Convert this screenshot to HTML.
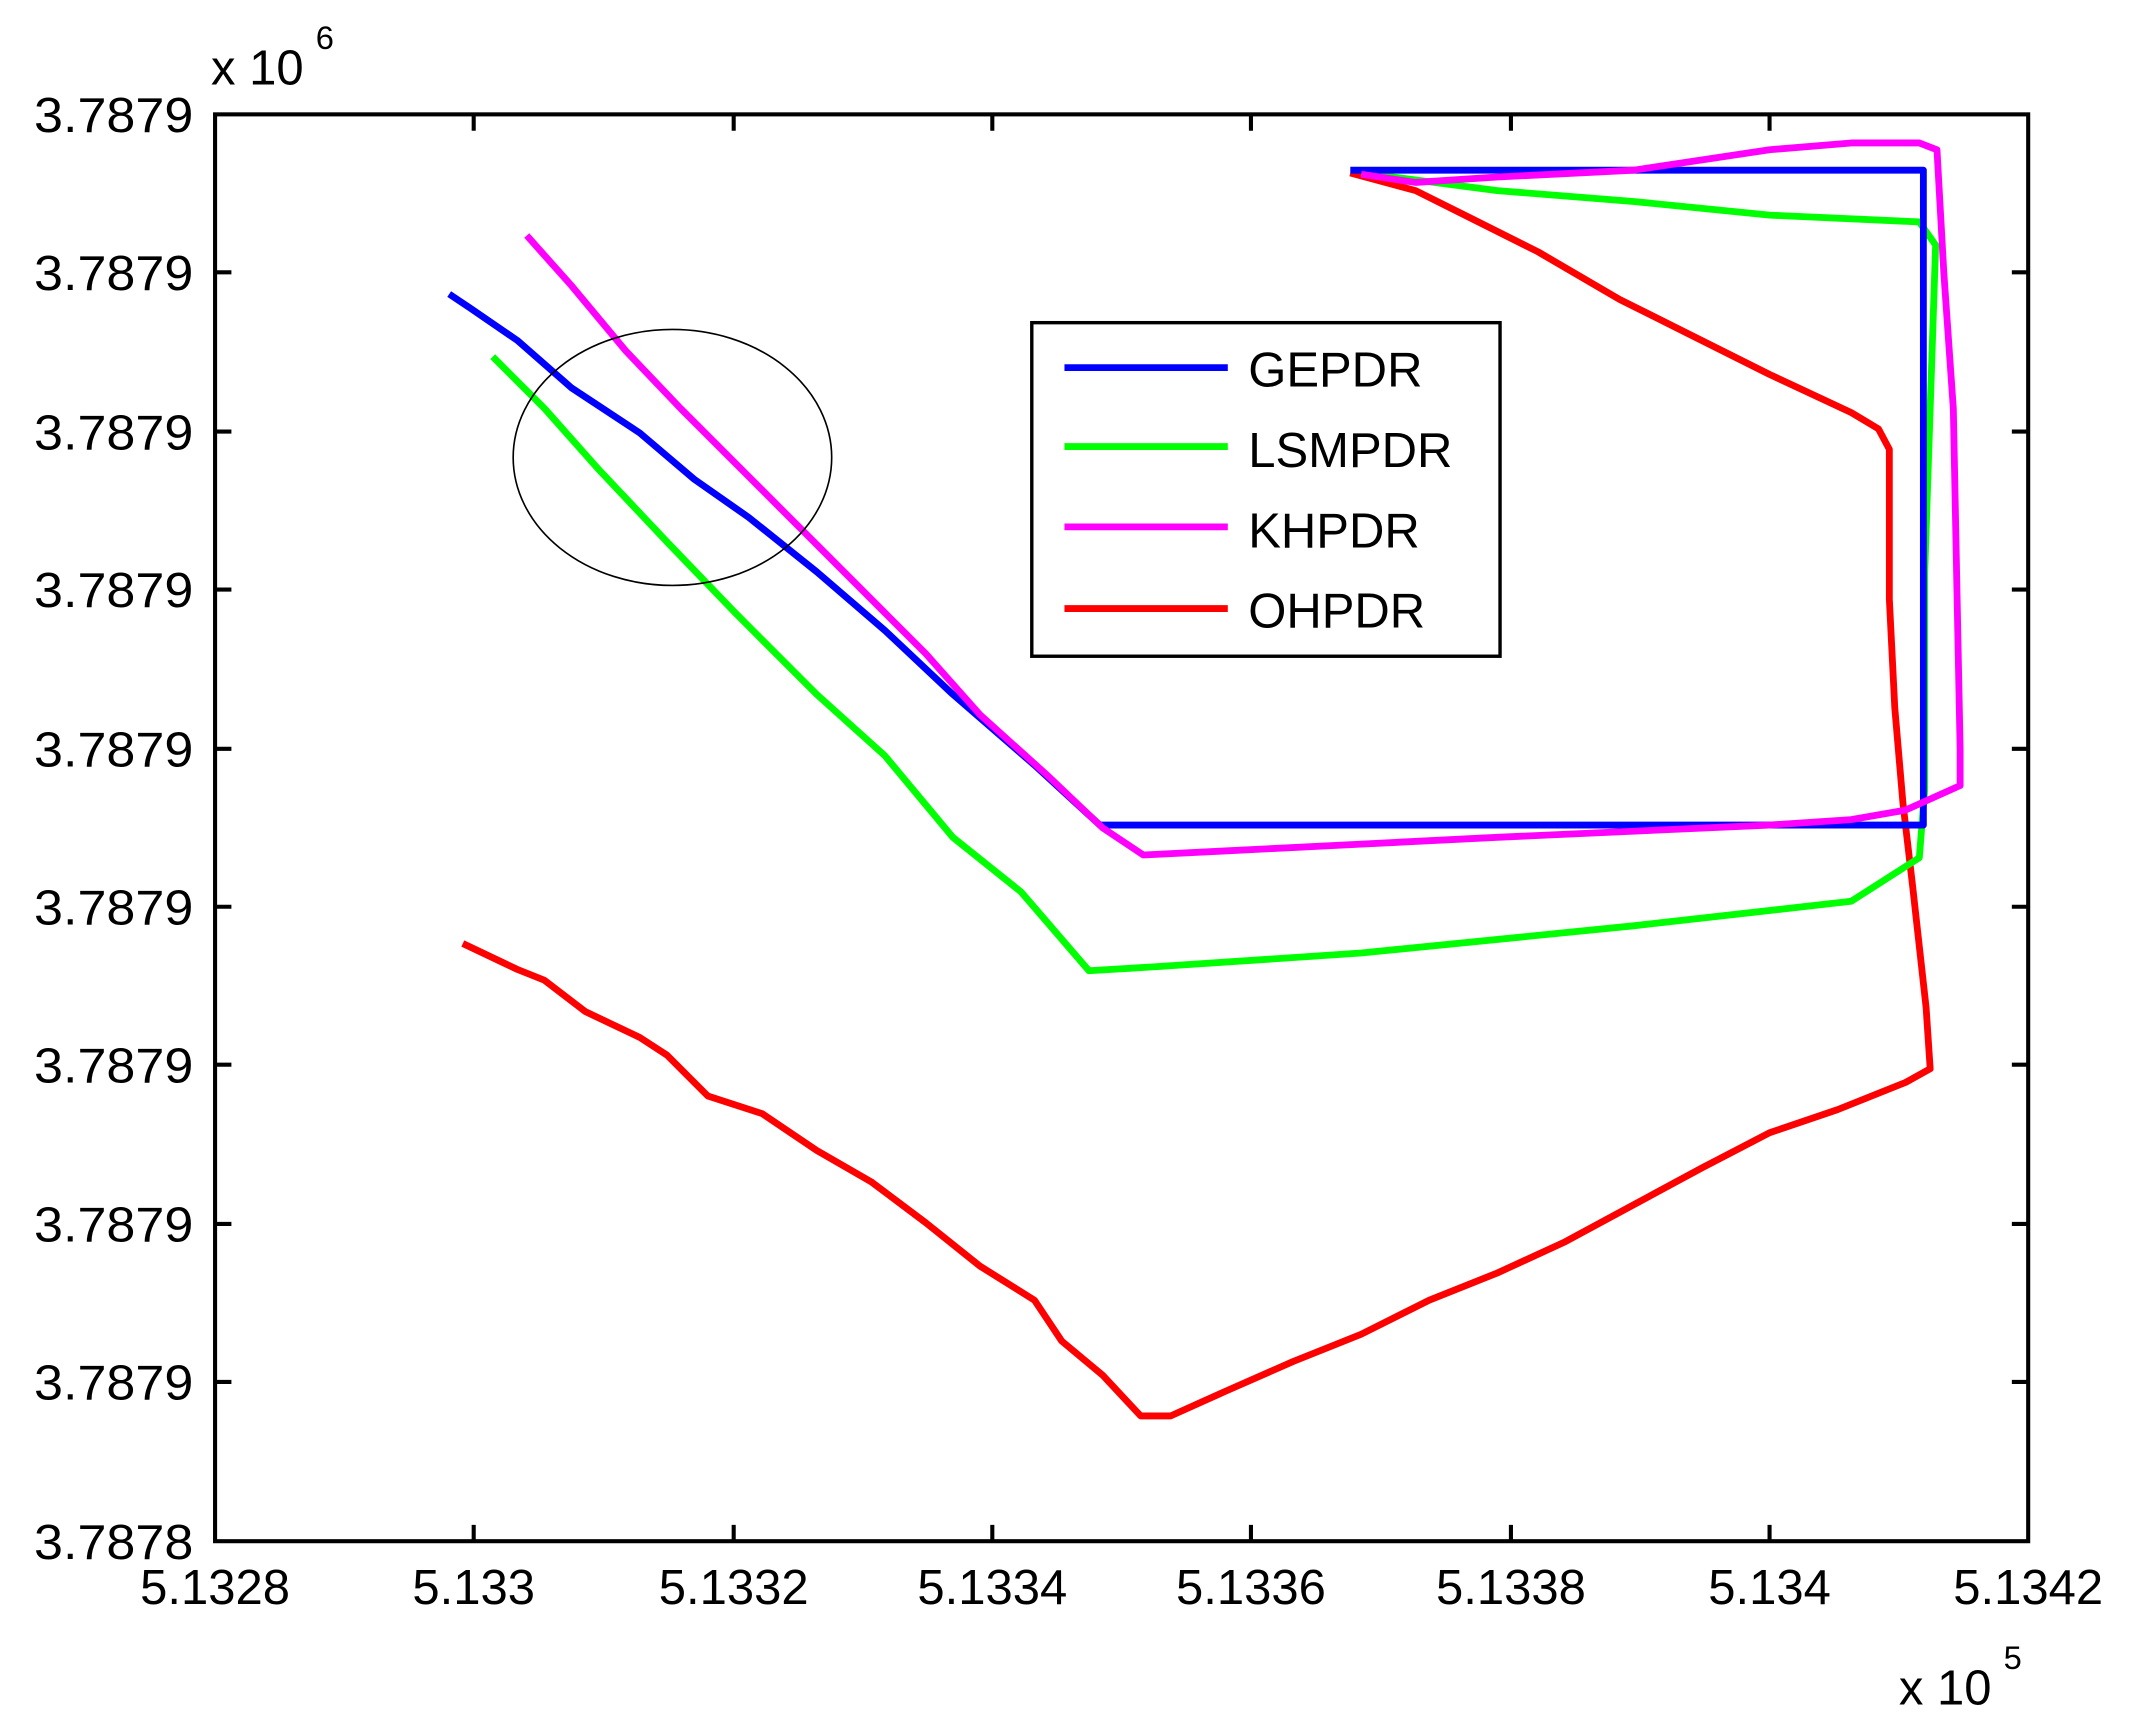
<!DOCTYPE html>
<html><head><meta charset="utf-8"><style>html,body{margin:0;padding:0;background:#fff}svg{display:block}</style></head>
<body>
<svg width="2133" height="1725" viewBox="0 0 1567 1267" preserveAspectRatio="none" xmlns="http://www.w3.org/2000/svg" font-family="'Liberation Sans', sans-serif">
<rect width="1567" height="1267" fill="#fff"/>
<g fill="none" stroke-width="5" stroke-linejoin="round">
<polyline stroke="#ff0000" points="340,693 380,712 400,720 430,743 470,762 490,775 520,805 560,818 600,845 640,868 680,898 720,930 760,955 780,985 810,1010 838,1040 860,1040 900,1022 950,1000 1000,980 1050,955 1100,935 1150,912 1200,885 1250,858 1300,832 1350,815 1400,795 1418,785 1415,740 1405,650 1398,590 1392,520 1388,440 1388,330 1380,315 1360,303 1300,275 1240,245 1190,220 1130,185 1080,160 1040,140 992,127"/>
<polyline stroke="#00ff00" points="362,262 400,300 440,345 490,398 540,450 600,510 650,555 700,615 750,655 800,713 850,710 1000,700 1200,680 1360,662 1410,630 1414,580 1414,420 1422,180 1410,163 1300,158 1200,148 1100,140 1000,127"/>
<polyline stroke="#0000ff" points="330,216 345,226 380,250 420,285 470,318 510,352 550,380 600,420 650,463 700,510 760,562 808,606 1413,606 1413,125 992,125"/>
<polyline stroke="#ff00ff" points="387,173 420,210 460,258 500,300 550,350 600,400 650,450 680,480 720,525 770,570 810,608 840,628 900,625 1000,620 1100,615 1300,606 1360,602 1400,595 1440,577 1440,550 1435,300 1428,200 1423,110 1410,105 1360,105 1300,110 1200,125 1100,130 1040,134 1000,128"/>
</g>
<ellipse cx="494" cy="336" rx="117" ry="94" fill="none" stroke="#000" stroke-width="1.2"/>
<rect x="158" y="84" width="1332" height="1048" fill="none" stroke="#000" stroke-width="3"/>
<g stroke="#000" stroke-width="3">
<path d="M348,1132v-12M539,1132v-12M729,1132v-12M919,1132v-12M1110,1132v-12M1300,1132v-12
M348,84v12M539,84v12M729,84v12M919,84v12M1110,84v12M1300,84v12
M158,200h12M158,317h12M158,433h12M158,550h12M158,666h12M158,782h12M158,899h12M158,1015h12
M1490,200h-12M1490,317h-12M1490,433h-12M1490,550h-12M1490,666h-12M1490,782h-12M1490,899h-12M1490,1015h-12"/>
</g>
<g font-size="36" fill="#000" text-anchor="end">
<text x="142" y="97" textLength="117" lengthAdjust="spacingAndGlyphs">3.7879</text>
<text x="142" y="213" textLength="117" lengthAdjust="spacingAndGlyphs">3.7879</text>
<text x="142" y="330" textLength="117" lengthAdjust="spacingAndGlyphs">3.7879</text>
<text x="142" y="446" textLength="117" lengthAdjust="spacingAndGlyphs">3.7879</text>
<text x="142" y="563" textLength="117" lengthAdjust="spacingAndGlyphs">3.7879</text>
<text x="142" y="679" textLength="117" lengthAdjust="spacingAndGlyphs">3.7879</text>
<text x="142" y="795" textLength="117" lengthAdjust="spacingAndGlyphs">3.7879</text>
<text x="142" y="912" textLength="117" lengthAdjust="spacingAndGlyphs">3.7879</text>
<text x="142" y="1028" textLength="117" lengthAdjust="spacingAndGlyphs">3.7879</text>
<text x="142" y="1145" textLength="117" lengthAdjust="spacingAndGlyphs">3.7878</text>
</g>
<g font-size="36" fill="#000" text-anchor="middle">
<text x="158" y="1178">5.1328</text>
<text x="348" y="1178">5.133</text>
<text x="539" y="1178">5.1332</text>
<text x="729" y="1178">5.1334</text>
<text x="919" y="1178">5.1336</text>
<text x="1110" y="1178">5.1338</text>
<text x="1300" y="1178">5.134</text>
<text x="1490" y="1178">5.1342</text>
</g>
<text x="155" y="62" font-size="36">x 10</text>
<text x="232" y="36" font-size="24">6</text>
<text x="1395" y="1252" font-size="36">x 10</text>
<text x="1472" y="1226" font-size="24">5</text>
<rect x="758" y="237" width="344" height="245" fill="#fff" stroke="#000" stroke-width="2.5"/>
<g stroke-width="5">
<line x1="782" y1="270" x2="902" y2="270" stroke="#0000ff"/>
<line x1="782" y1="328" x2="902" y2="328" stroke="#00ff00"/>
<line x1="782" y1="387" x2="902" y2="387" stroke="#ff00ff"/>
<line x1="782" y1="447" x2="902" y2="447" stroke="#ff0000"/>
</g>
<g font-size="36" fill="#000">
<text x="917" y="284">GEPDR</text>
<text x="917" y="343">LSMPDR</text>
<text x="917" y="402">KHPDR</text>
<text x="917" y="461">OHPDR</text>
</g>
</svg>
</body></html>
